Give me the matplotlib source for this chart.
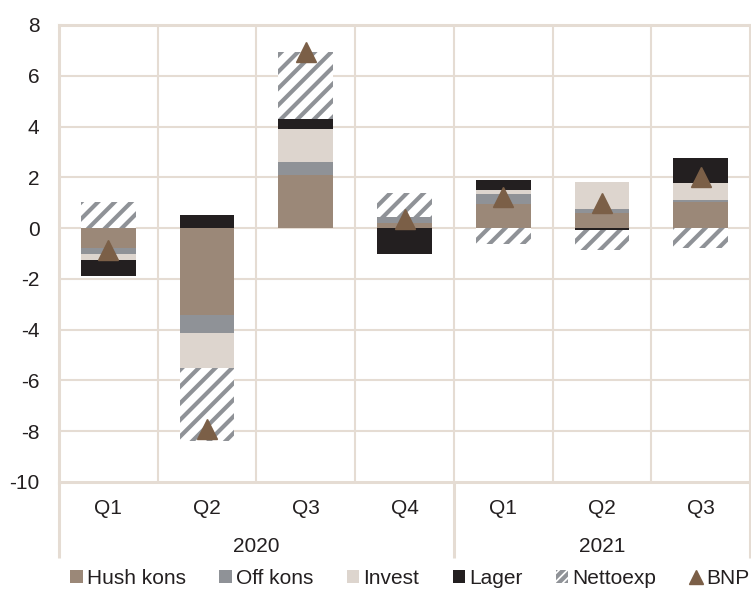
import matplotlib
matplotlib.use("Agg")
import matplotlib.pyplot as plt
import numpy as np
from matplotlib.patches import Patch
from matplotlib.lines import Line2D
from matplotlib.transforms import blended_transform_factory

plt.rcParams['font.family'] = ['Liberation Sans', 'DejaVu Sans']
plt.rcParams['axes.unicode_minus'] = False
plt.rcParams['hatch.linewidth'] = 3.0

# Quarterly contributions to GDP growth (percentage points)
quarters = ["Q1", "Q2", "Q3", "Q4", "Q1", "Q2", "Q3"]
years = ["2020", "2021"]
year_sizes = [4, 3]

hush_kons = [-0.80, -3.43, 2.09, 0.22, 0.93, 0.60, 1.02]
off_kons = [-0.20, -0.70, 0.51, 0.23, 0.43, 0.17, 0.08]
invest = [-0.26, -1.38, 1.29, 0.00, 0.16, 1.04, 0.66]
lager = [-0.62, 0.51, 0.39, -1.02, 0.37, -0.08, 1.02]
nettoexp = [1.03, -2.87, 2.64, 0.92, -0.64, -0.77, -0.78]
bnp = [-0.85, -7.90, 6.92, 0.35, 1.23, 0.97, 2.00]

series_names = ["Hush kons", "Off kons", "Invest", "Lager", "Nettoexp"]
series_values = [hush_kons, off_kons, invest, lager, nettoexp]
series_colors = ["#9B8878", "#8F9297", "#DDD5CE", "#231F20", "white"]
grid_color = "#E5DCD3"
text_color = "#231F20"
hatch_color = "#8F9297"
fs = 15

W, H = 751, 589
fig = plt.figure(figsize=(W / 100, H / 100), dpi=100)
ax = fig.add_axes([59 / W, 1 - 482 / H, (750 - 59) / W, (482 - 25) / H])

x = np.arange(len(quarters))
width = 0.555
pos_base = np.zeros(len(x))
neg_base = np.zeros(len(x))
for name, vals, color in zip(series_names, series_values, series_colors):
    vals = np.asarray(vals, dtype=float)
    bottoms = np.where(vals >= 0, pos_base, neg_base)
    if name == "Nettoexp":
        ax.bar(x, vals, width, bottom=bottoms, facecolor="white",
               edgecolor=hatch_color, hatch="//", linewidth=0, zorder=3)
    else:
        ax.bar(x, vals, width, bottom=bottoms, color=color, linewidth=0, zorder=3)
    pos_base = pos_base + np.where(vals >= 0, vals, 0)
    neg_base = neg_base + np.where(vals < 0, vals, 0)

ax.plot(x, bnp, linestyle="none", marker="^", markersize=14,
        color="#7B5F47", zorder=4)

ax.set_xlim(-0.5, len(x) - 0.5)
ax.set_ylim(-10, 8)
ax.set_yticks(np.arange(-10, 9, 2))
ax.set_xticks([])
ax.tick_params(axis="y", length=0, pad=14, labelsize=fs, labelcolor=text_color)

for yv in np.arange(-8, 8, 2):
    ax.axhline(yv, color=grid_color, lw=1.5, zorder=1)
for xv in np.arange(0.5, len(x) - 0.5, 1):
    ax.axvline(xv, color=grid_color, lw=1.5, zorder=1)
for side, sp in ax.spines.items():
    sp.set_color(grid_color)
    sp.set_linewidth(2.2)
    sp.set_zorder(1)

# Category axis: quarter labels, year groups and separators
trans = blended_transform_factory(ax.transData, ax.transAxes)
y_low = (482 - 558) / 457
for xv in [-0.5, 3.5, len(x) - 0.5]:
    ax.plot([xv, xv], [0, y_low], transform=trans, color=grid_color,
            lw=2.2, clip_on=False, solid_capstyle="butt")
for xi, q in zip(x, quarters):
    ax.text(xi, (482 - 509) / 457, q, transform=trans, ha="center",
            va="center", fontsize=fs, color=text_color)
start = 0
for yr, n in zip(years, year_sizes):
    ax.text(start + (n - 1) / 2, (482 - 547) / 457, yr, transform=trans,
            ha="center", va="center", fontsize=fs, color=text_color)
    start += n

handles = [Patch(facecolor=c, edgecolor="none") for c in series_colors[:4]]
handles.append(Patch(facecolor="white", edgecolor=hatch_color, hatch="////", linewidth=0))
handles.append(Line2D([], [], linestyle="none", marker="^", markersize=10, color="#7B5F47"))
labels = series_names + ["BNP"]
fig.legend(handles, labels, loc="center", bbox_to_anchor=(410 / W, 1 - 578 / H),
           ncol=6, frameon=False, fontsize=fs, handlelength=0.6, handleheight=0.6,
           handletextpad=0.2, columnspacing=1.6, labelcolor=text_color,
           borderaxespad=0, borderpad=0)

fig.savefig("out.png", dpi=100)
